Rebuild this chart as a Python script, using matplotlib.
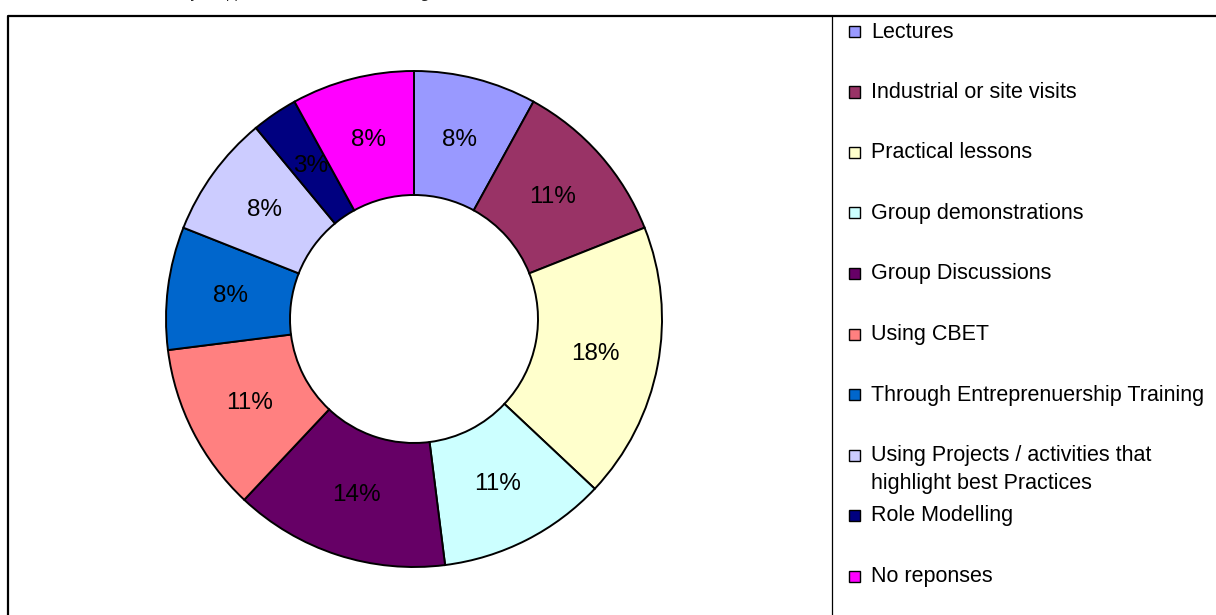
import matplotlib.pyplot as plt
from matplotlib.patches import Rectangle
from matplotlib.lines import Line2D

# data
categories = ['Lectures', 'Industrial or site visits', 'Practical lessons',
              'Group demonstrations', 'Group Discussions', 'Using CBET',
              'Through Entreprenuership Training',
              'Using Projects / activities that\nhighlight best Practices',
              'Role Modelling', 'No reponses']
shares = [8, 11, 18, 11, 14, 11, 8, 8, 3, 8]
colors = ['#9999FF', '#993366', '#FFFFCC', '#CCFFFF', '#660066',
          '#FF8080', '#0066CC', '#CCCCFF', '#000080', '#FF00FF']
title_text = 'Chart 10: Summary of approaches used in the teaching'

W, H = 1216, 615
fig = plt.figure(figsize=(W / 100, H / 100), dpi=100)
fig.patch.set_facecolor('white')


def fx(x):
    return x / W


def fy(y):
    return 1 - y / H


# caption sits above the picture, only its descenders show
fig.text(fx(73), fy(-2.8), title_text, ha='left', va='baseline',
         fontsize=10, family='Open Sans', color='#222222')

# outer frame and legend separator
fig.add_artist(Line2D([fx(8), fx(8), fx(W + 5)], [fy(H + 5), fy(15.5), fy(15.5)],
                      transform=fig.transFigure, color='black', lw=1.6))
fig.add_artist(Line2D([fx(832), fx(832)], [fy(15.5), fy(H + 5)],
                      transform=fig.transFigure, color='black', lw=0.9))

# donut
cx, cy, r = 414, 319, 248
half = 260
ax = fig.add_axes([fx(cx - half), fy(cy + half), 2 * half / W, 2 * half / H])
wedges, texts, autotexts = ax.pie(
    shares, colors=colors, startangle=90, counterclock=False, radius=1.0,
    autopct=lambda p: '%.0f%%' % p, pctdistance=0.745,
    wedgeprops=dict(width=0.5, edgecolor='black', linewidth=1.4),
    textprops=dict(fontsize=17.5, family='Liberation Sans', color='black'))
ax.set_xlim(-half / r, half / r)
ax.set_ylim(-half / r, half / r)
ax.set_aspect('equal')
ax.axis('off')

# legend
leg_y0, leg_step = 32, 60.5
for i, (lab, col) in enumerate(zip(categories, colors)):
    y = leg_y0 + i * leg_step
    fig.add_artist(Rectangle((fx(849), fy(y + 5)), 11 / W, 11 / H,
                             transform=fig.transFigure, facecolor=col,
                             edgecolor='black', lw=1.0))
    for j, line in enumerate(lab.split('\n')):
        fig.text(fx(871), fy(y + j * 28), line, ha='left', va='center',
                 fontsize=15.5, family='Liberation Sans', color='black')

fig.savefig('out.png', dpi=100, facecolor='white')
